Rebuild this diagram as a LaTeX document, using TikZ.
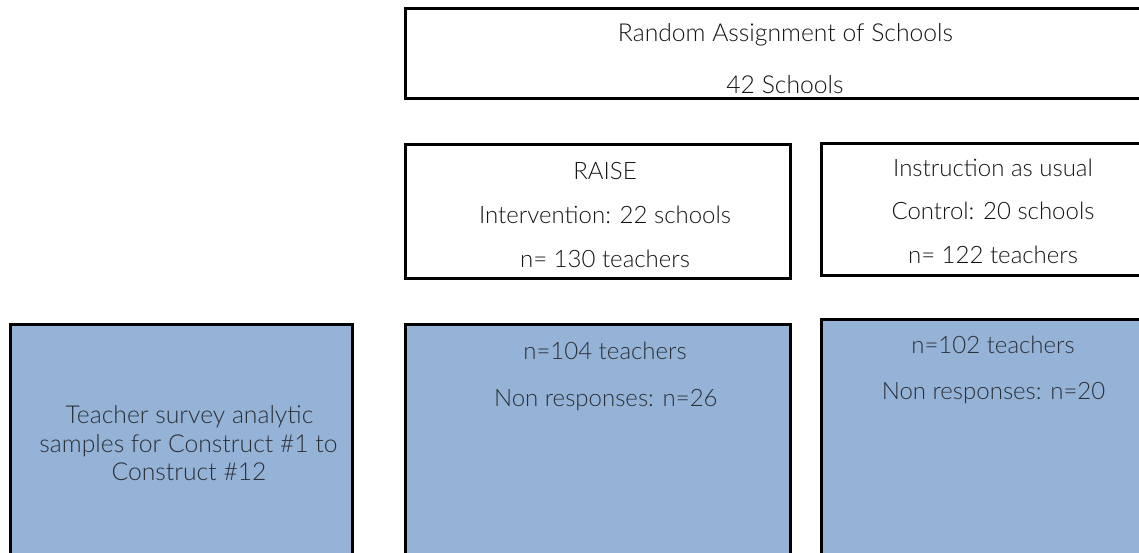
\documentclass[tikz,border=0pt]{standalone}
\usepackage{fontspec}
\setmainfont{Lato}[UprightFont={* Light}]
\definecolor{boxblue}{HTML}{95B3D7}
\definecolor{bluetext}{HTML}{2B3038}
\begin{document}
\begin{tikzpicture}[x=1pt,y=-1pt,
  box/.style={draw=black,line width=3pt,outer sep=0pt,inner sep=0pt,anchor=north west,rectangle},
  bluebox/.style={box,fill=boxblue},
  txt/.style={anchor=base,inner sep=0pt,font=\fontsize{24}{28}\selectfont,text=black!92},
  bigtxt/.style={txt,font=\fontsize{24.7}{28}\selectfont},
  btxt/.style={txt,text=bluetext},
  bigbtxt/.style={btxt,font=\fontsize{24.7}{28}\selectfont}]
\useasboundingbox (0,0) rectangle (1139,552);
\clip (0,0) rectangle (1139,552);
% boxes
\node[box,minimum width=800pt,minimum height=90pt] (top) at (405.5,8.5) {};
\node[box,minimum width=385pt,minimum height=134pt] (raise) at (405.5,144.5) {};
\node[box,minimum width=390pt,minimum height=132pt] (ctrl) at (821.5,143.5) {};
\node[bluebox,minimum width=342pt,minimum height=300pt] (left) at (10.5,324.5) {};
\node[bluebox,minimum width=385pt,minimum height=300pt] (midb) at (405.5,324.5) {};
\node[bluebox,minimum width=390pt,minimum height=300pt] (rightb) at (821.5,319.5) {};
% texts
\node[bigtxt] (t1) at (785.5,41) {Random Assignment of Schools};
\node[bigtxt] (t2) at (785,93) {42 Schools};
\node[txt] (r1) at (605,179) {RAISE};
\node[txt] (r2) at (605,223) {Intervention: 22 schools};
\node[txt] (r3) at (605,267) {n= 130 teachers};
\node[txt] (c1) at (993,176) {Instruction as usual};
\node[txt] (c2) at (993,219.5) {Control: 20 schools};
\node[txt] (c3) at (993,263) {n= 122 teachers};
\node[bigbtxt] (l1) at (189.5,423) {Teacher survey analytic};
\node[bigbtxt] (l2) at (188.5,452.7) {samples for Construct \#1 to};
\node[bigbtxt] (l3) at (189,480) {Construct \#12};
\node[btxt] (m1) at (605,359.5) {n=104 teachers};
\node[btxt] (m2) at (605.8,406) {Non responses: n=26};
\node[btxt] (b1) at (993,353.3) {n=102 teachers};
\node[btxt] (b2) at (993.5,399.3) {Non responses: n=20};
\end{tikzpicture}
\end{document}
